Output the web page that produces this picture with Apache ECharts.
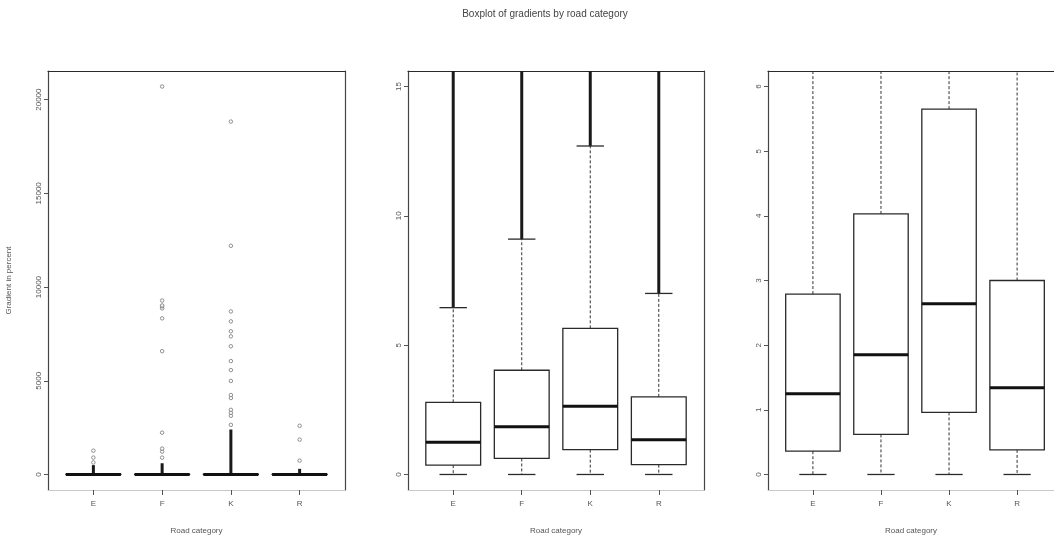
<!DOCTYPE html>
<html>
<head>
<meta charset="utf-8">
<script src="https://cdn.jsdelivr.net/npm/echarts@6/dist/echarts.min.js"></script>
<style>
  html, body { margin: 0; padding: 0; background: #fff; }
  #chart { width: 1054px; height: 540px; }
</style>
</head>
<body>
<div id="chart"></div>
<script>
// Road categories on the x axis
const categories = ['E', 'F', 'K', 'R'];

// Five-number summaries of the gradient (percent) per category
const whiskerLow  = [0, 0, 0, 0];
const q1          = [0.36, 0.62, 0.96, 0.38];
const median      = [1.25, 1.85, 2.64, 1.34];
const q3          = [2.79, 4.03, 5.65, 3.0];
const whiskerHigh = [6.45, 9.1, 12.7, 7.0];

// Outliers packed so tightly above the whisker that they merge into one stroke, up to this value
const denseOutlierTop = [500, 600, 2400, 300];

// Individual outliers standing apart
const outliersE = [640, 900, 1270];
const outliersF = [900, 1220, 1380, 2230, 6580, 8330, 8860, 8970, 9020, 9280, 20700];
const outliersK = [2650, 3130, 3290, 3450, 4080, 4240, 4990, 5570, 6050, 6840, 7370,
                   7640, 8170, 8700, 12200, 18830];
const outliersR = [740, 1860, 2600];

// y ranges (4% padded) and tick labels of the three panels: full range, 0-15, 0-6
const panelRanges = [[-828, 21528], [-0.6, 15.6], [-0.24, 6.24]];
const panelTicks  = [[0, 5000, 10000, 15000, 20000], [0, 5, 10, 15], [0, 1, 2, 3, 4, 5, 6]];

const titleText = 'Boxplot of gradients by road category';
const xTitle = 'Road category';
const yTitle = 'Gradient in percent';

// ---------------------------------------------------------------------------
const FONT = '"Liberation Sans", Arial, sans-serif';
const INK = '#2a2a2a';
const TEXT = '#555';

// x extent of one panel in category units (positions 1..4 with 4% padding)
const X_MIN = 0.34, X_MAX = 4.66;
const UNIT_PX = 68.06;
const gridLefts = [48, 408, 768];
const gridWidths = [297, 296, 286];        // the last panel runs off the right edge
const xMaxes = [X_MAX, X_MAX, X_MIN + 286 / UNIT_PX];
const showRight = [true, true, false];
const GRID_TOP = 71, GRID_H = 421;

const boxData = categories.map((c, i) =>
  [i + 1, whiskerLow[i], q1[i], median[i], q3[i], whiskerHigh[i]]);
const denseData = categories.map((c, i) => [i + 1, whiskerHigh[i], denseOutlierTop[i]]);
const sparseData = [];
[outliersE, outliersF, outliersK, outliersR].forEach((arr, i) =>
  arr.forEach(v => sparseData.push([i + 1, v])));

function seg(x1, y1, x2, y2, style) {
  return { type: 'line', shape: { x1, y1, x2, y2 }, style };
}

function renderBox(params, api) {
  const x = api.value(0);
  const low = api.coord([x, api.value(1)]);
  const b1 = api.coord([x, api.value(2)]);
  const mid = api.coord([x, api.value(3)]);
  const b3 = api.coord([x, api.value(4)]);
  const high = api.coord([x, api.value(5)]);
  const half = api.size([0.8, 0])[0] / 2;
  const cap = half / 2;
  const cx = low[0];
  const dashed = { stroke: '#333', lineWidth: 1, lineDash: [3, 2], fill: null };
  const solid = { stroke: INK, lineWidth: 1.3, fill: null };
  return {
    type: 'group',
    children: [
      seg(cx, b3[1], cx, high[1], dashed),
      seg(cx, b1[1], cx, low[1], dashed),
      seg(cx - cap, high[1], cx + cap, high[1], solid),
      seg(cx - cap, low[1], cx + cap, low[1], solid),
      { type: 'rect',
        shape: { x: cx - half, y: b3[1], width: 2 * half, height: b1[1] - b3[1] },
        style: { fill: 'none', stroke: INK, lineWidth: 1.3 } },
      seg(cx - half, mid[1], cx + half, mid[1], { stroke: '#111', lineWidth: 3 })
    ]
  };
}

function renderDense(params, api) {
  const x = api.value(0);
  const a = api.coord([x, api.value(1)]);
  const b = api.coord([x, api.value(2)]);
  return seg(a[0], a[1], b[0], b[1], { stroke: '#1a1a1a', lineWidth: 3 });
}

const grids = [], xAxes = [], yAxes = [], series = [];

for (let p = 0; p < 3; p++) {
  grids.push({ left: gridLefts[p], top: GRID_TOP, width: gridWidths[p], height: GRID_H });

  // bottom axis with category ticks
  xAxes.push({
    type: 'value', gridIndex: p, min: X_MIN, max: xMaxes[p], position: 'bottom',
    name: xTitle, nameLocation: 'middle', nameGap: 37,
    nameTextStyle: { fontFamily: FONT, fontSize: 8, color: TEXT },
    axisLine: { show: true, onZero: false, lineStyle: { color: '#c8c8c8', width: 1 } },
    axisTick: { show: true, length: 5, customValues: [1, 2, 3, 4],
                lineStyle: { color: '#555', width: 1 } },
    axisLabel: { show: true, customValues: [1, 2, 3, 4], margin: 10,
                 fontFamily: FONT, fontSize: 8, color: TEXT,
                 formatter: v => categories[Math.round(v) - 1] },
    splitLine: { show: false }
  });
  // top frame edge
  xAxes.push({
    type: 'value', gridIndex: p, min: X_MIN, max: xMaxes[p], position: 'top',
    axisLine: { show: true, onZero: false, lineStyle: { color: INK, width: 1.2 } },
    axisTick: { show: false }, axisLabel: { show: false }, splitLine: { show: false }
  });

  const [ymin, ymax] = panelRanges[p];
  yAxes.push({
    type: 'value', gridIndex: p, min: ymin, max: ymax, position: 'left',
    name: p === 0 ? yTitle : '', nameLocation: 'middle', nameGap: 35, nameRotate: 90,
    nameTextStyle: { fontFamily: FONT, fontSize: 8, color: TEXT },
    axisLine: { show: true, onZero: false, lineStyle: { color: '#444', width: 1.2 } },
    axisTick: { show: true, length: 4, customValues: panelTicks[p],
                lineStyle: { color: '#555', width: 1 } },
    axisLabel: { show: true, customValues: panelTicks[p], rotate: 90, margin: 5,
                 fontFamily: FONT, fontSize: 8, color: TEXT,
                 formatter: v => String(v) },
    splitLine: { show: false }
  });
  // right frame edge
  yAxes.push({
    type: 'value', gridIndex: p, min: ymin, max: ymax, position: 'right',
    axisLine: { show: showRight[p], onZero: false, lineStyle: { color: '#444', width: 1.2 } },
    axisTick: { show: false }, axisLabel: { show: false }, splitLine: { show: false }
  });

  const xi = p * 2, yi = p * 2;
  series.push({
    type: 'custom', xAxisIndex: xi, yAxisIndex: yi, clip: true,
    renderItem: renderDense, data: denseData, silent: true, z: 2
  });
  series.push({
    type: 'custom', xAxisIndex: xi, yAxisIndex: yi, clip: true,
    renderItem: renderBox, data: boxData, silent: true, z: 3,
    encode: { x: 0, y: [1, 2, 3, 4, 5] }
  });
  series.push({
    type: 'scatter', xAxisIndex: xi, yAxisIndex: yi, clip: true,
    data: sparseData, symbol: 'circle', symbolSize: 3.5, silent: true, z: 4,
    itemStyle: { color: '#fff', borderColor: '#777', borderWidth: 1 }
  });
}

const chart = echarts.init(document.getElementById('chart'), null, { renderer: 'canvas' });
chart.setOption({
  animation: false,
  backgroundColor: '#fff',
  textStyle: { fontFamily: FONT },
  graphic: [{
    type: 'text', x: 545, y: 14,
    style: { text: titleText, fontFamily: FONT, fontSize: 10, fill: '#444',
             align: 'center', verticalAlign: 'middle' }
  }],
  grid: grids,
  xAxis: xAxes,
  yAxis: yAxes,
  series: series
});
</script>
</body>
</html>
